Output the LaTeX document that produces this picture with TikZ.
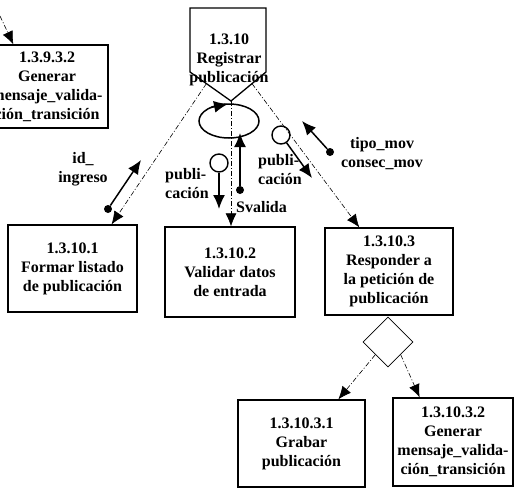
\documentclass[tikz,border=0pt]{standalone}
\usepackage{fontspec}
\setmainfont{Liberation Serif}
\usetikzlibrary{arrows.meta,shapes.geometric,calc}
\newcommand\dfdfont{\bfseries\fontsize{16}{19}\selectfont}
\begin{document}
\begin{tikzpicture}[x=1pt,y=-1pt,
  box/.style={draw,line width=1.3pt,align=center,font=\dfdfont,inner sep=0pt},
  lbl/.style={font=\dfdfont,align=center,inner sep=0pt},
  flow/.style={-{Latex[length=14pt,width=12pt]},line width=1.5pt},
  ctl/.style={-{Latex[length=13pt,width=11pt]},line width=0.6pt,dash pattern=on 5pt off 2pt on 1pt off 2pt},
  dot/.style={circle,fill,inner sep=0pt,minimum size=8pt},
  ring/.style={circle,draw,line width=1.4pt,inner sep=0pt,minimum size=18pt}]
\useasboundingbox (0,0) rectangle (516,488);

% boxes
\node[box,minimum width=122,minimum height=83] (b0) at (47,86.5) {1.3.9.3.2\\Generar\\mensaje\_valida-\\ción\_transición};
\node[box,minimum width=129,minimum height=87] (b1) at (72.5,268.5) {1.3.10.1\\Formar listado\\de publicación};
\node[box,minimum width=130,minimum height=90] (b2) at (230,272) {1.3.10.2\\Validar datos\\de entrada};
\node[box,minimum width=128,minimum height=87] (b3) at (389,271.5) {1.3.10.3\\Responder a\\la petición de\\publicación};
\node[box,minimum width=127,minimum height=87] (b31) at (301.5,443.5) {1.3.10.3.1\\Grabar\\publicación};
\node[box,minimum width=120,minimum height=88] (b32) at (453,442) {1.3.10.3.2\\Generar\\mensaje\_valida-\\ción\_transición};

% top process (pentagon)
\coordinate (ptl) at (190,8);
\coordinate (ptr) at (266,8);
\coordinate (psr) at (266,72);
\coordinate (apex) at (231,101);
\coordinate (psl) at (190,72);
\draw[line width=1.3pt] (ptl) -- (ptr) -- (psr) -- (apex) -- (psl) -- cycle;
\node[lbl] (top) at (229,60) {1.3.10\\Registrar\\publicación};

% loop
\node[ellipse,draw,line width=1.5pt,minimum width=60,minimum height=34,inner sep=0pt] (loop) at (229,121) {};
\draw[-{Latex[length=14pt,width=12pt]},line width=1.5pt] ($(loop.center)+(-18,-13.6)$) -- ($(loop.center)+(-1,-17)$);

% control flows
\coordinate (ext0) at (0,16);
\draw[ctl] (ext0) -- ($(b0.north west)+(28,0)$);
\draw[ctl] ($(psl)!0.4!(apex)$) -- ($(b1.north west)!0.8!(b1.north east)$);
\draw[ctl] (apex) -- (apex |- b2.north);
\draw[ctl] ($(psr)!0.4!(apex)$) -- ($(b3.north west)!0.27!(b3.north east)$);

% diamond
\node[diamond,draw,line width=0.8pt,minimum width=50,minimum height=50,inner sep=0pt] (dm) at (388,342) {};
\draw[ctl] (dm.south west) -- ($(b31.north west)!0.787!(b31.north east)$);
\draw[ctl] (dm.south east) -- ($(b32.north west)!0.225!(b32.north east)$);

% data flows
\node[dot] (d1) at (108,209) {};
\coordinate (d1e) at (141,160);
\draw[flow] (d1) -- (d1e);
\node[ring] (r1) at (219,163) {};
\coordinate (r1e) at (219,209);
\draw[flow] (r1) -- (r1e);
\node[dot] (d2) at (240,190) {};
\coordinate (d2e) at (240,133);
\draw[flow] (d2) -- (d2e);
\node[ring] (r2) at (281,135) {};
\coordinate (r2e) at (312,178);
\draw[flow] (r2) -- (r2e);
\node[dot] (d3) at (330,152) {};
\coordinate (d3e) at (302,121);
\draw[flow] (d3) -- (d3e);

% labels
\node[lbl] (l1) at (83,169) {id\_\\ingreso};
\node[lbl,align=left] (l2) at (187,184) {publi-\\cación};
\node[lbl,anchor=west] (l3) at (236,207) {Svalida};
\node[lbl,align=left,anchor=west] (l4) at (258,170) {publi-\\cación};
\node[lbl] (l5) at (382,154) {tipo\_mov\\consec\_mov};
\end{tikzpicture}
\end{document}
